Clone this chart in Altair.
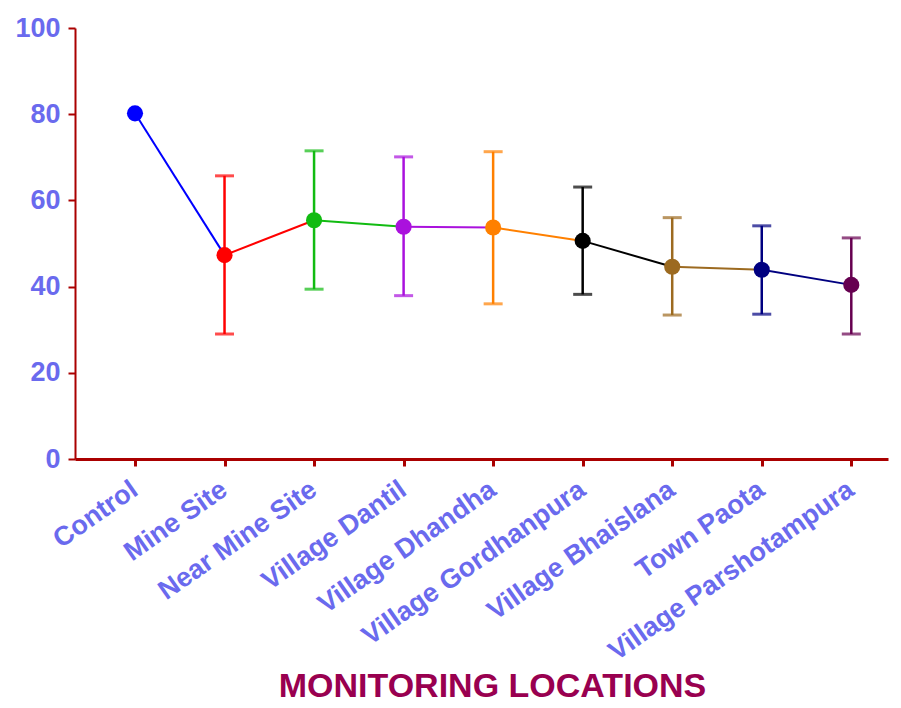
import altair as alt
import pandas as pd

locations = ["Control", "Mine Site", "Near Mine Site", "Village Dantil", "Village Dhandha",
             "Village Gordhanpura", "Village Bhaislana", "Town Paota", "Village Parshotampura"]
means = [80.2, 47.3, 55.4, 53.9, 53.7, 50.6, 44.6, 43.9, 40.4]
upper = [None, 65.7, 71.5, 70.1, 71.3, 63.1, 56.0, 54.1, 51.3]
lower = [None, 29.0, 39.4, 37.9, 36.0, 38.2, 33.4, 33.6, 29.0]
colors = ["#0000ff", "#ff0000", "#11bb11", "#aa11dd", "#ff8000",
          "#000000", "#9c6a20", "#000080", "#660050"]

pts = pd.DataFrame({
    "idx": list(range(len(locations))),
    "loc": locations,
    "mean": means,
    "upper": upper,
    "lower": lower,
})
segs = pd.DataFrame({
    "idx": list(range(len(locations) - 1)),
    "idx2": list(range(1, len(locations))),
    "loc": locations[:-1],
    "mean": means[:-1],
    "mean2": means[1:],
})

label_arr = "[" + ",".join("'%s'" % l for l in locations) + "]"

color_scale = alt.Scale(domain=locations, range=colors)
xscale = alt.Scale(domain=[-0.67, 8.41], nice=False, zero=False)
yscale = alt.Scale(domain=[0, 100], nice=False)

x_axis = alt.Axis(
    title="MONITORING LOCATIONS",
    values=list(range(len(locations))),
    labelExpr=label_arr + "[datum.value]",
    labelAngle=-35,
    labelFont="Liberation Sans",
    labelFontWeight="bold",
    labelFontSize=27,
    labelColor="#6a6aee",
    labelPadding=10,
    labelOffset=-8,
    labelOverlap=False,
    labelLimit=0,
    grid=False,
    domainColor="#aa0000",
    domainWidth=3,
    tickColor="#aa0000",
    tickWidth=3,
    tickSize=7,
    titleFont="Liberation Sans",
    titleFontWeight="bold",
    titleFontSize=34,
    titleColor="#990050",
    titlePadding=10,
    titleX=417,
)
y_axis = alt.Axis(
    title=None,
    values=[0, 20, 40, 60, 80, 100],
    labelFont="Liberation Sans",
    labelFontSize=27,
    labelFontWeight="bold",
    labelColor="#6a6aee",
    labelPadding=8,
    grid=False,
    domainColor="#aa0000",
    domainWidth=2,
    tickColor="#aa0000",
    tickWidth=2,
    tickSize=7,
)

base_x = alt.X("idx:Q", scale=xscale, axis=x_axis)

lines = alt.Chart(segs).mark_rule(strokeWidth=2).encode(
    x=alt.X("idx:Q", scale=xscale, axis=x_axis),
    x2="idx2:Q",
    y=alt.Y("mean:Q", scale=yscale, axis=y_axis),
    y2="mean2:Q",
    color=alt.Color("loc:N", scale=color_scale, legend=None),
)

err = alt.Chart(pts).transform_filter("isValid(datum.lower)").mark_rule(strokeWidth=2.5).encode(
    x=base_x,
    y=alt.Y("lower:Q", scale=yscale, axis=y_axis),
    y2="upper:Q",
    color=alt.Color("loc:N", scale=color_scale, legend=None),
)
cap_hi = alt.Chart(pts).transform_filter("isValid(datum.lower)").mark_tick(
    orient="horizontal", size=19, thickness=3).encode(
    x=base_x,
    y=alt.Y("upper:Q", scale=yscale, axis=y_axis),
    color=alt.Color("loc:N", scale=color_scale, legend=None),
)
cap_lo = alt.Chart(pts).transform_filter("isValid(datum.lower)").mark_tick(
    orient="horizontal", size=19, thickness=3).encode(
    x=base_x,
    y=alt.Y("lower:Q", scale=yscale, axis=y_axis),
    color=alt.Color("loc:N", scale=color_scale, legend=None),
)
dots = alt.Chart(pts).mark_point(filled=True, shape="circle", size=260, opacity=1).encode(
    x=base_x,
    y=alt.Y("mean:Q", scale=yscale, axis=y_axis),
    color=alt.Color("loc:N", scale=color_scale, legend=None),
)

chart = alt.layer(lines, err, cap_hi, cap_lo, dots).properties(
    width=813,
    height=431,
    autosize=alt.AutoSizeParams(type="none"),
    padding={"left": 67, "top": 20, "right": 5, "bottom": 246},
).configure_view(stroke=None)

chart.save("out.html", embed_options={"renderer": "svg", "actions": False})
